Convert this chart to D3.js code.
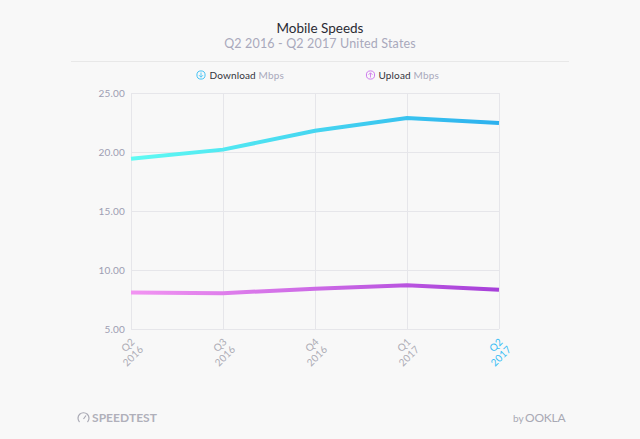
<!DOCTYPE html>
<html><head><meta charset="utf-8">
<script src="https://cdn.jsdelivr.net/npm/d3@7/dist/d3.min.js"></script>
<style>
html,body{margin:0;padding:0;background:#f8f8f8;overflow:hidden}
svg{display:block}
text{font-family:"Lato","Open Sans",sans-serif}
</style></head><body>
<script>
const quarters=["Q2|2016","Q3|2016","Q4|2016","Q1|2017","Q2|2017"];
const download=[19.43,20.2,21.8,22.88,22.46];
const upload=[8.1,8.03,8.42,8.7,8.33];
const yTicks=[5,10,15,20,25];
const title="Mobile Speeds";
const subtitle="Q2 2016 - Q2 2017 United States";

const svg=d3.select("body").append("svg").attr("width",640).attr("height",439);
const defs=svg.append("defs");
const x=d3.scalePoint().domain(quarters).range([131,499]);
const y=d3.scaleLinear().domain([5,25]).range([329,93]);

function grad(id,a,b){
  const g=defs.append("linearGradient").attr("id",id).attr("gradientUnits","userSpaceOnUse")
    .attr("x1",131).attr("x2",499).attr("y1",0).attr("y2",0);
  g.append("stop").attr("offset",0).attr("stop-color",a);
  g.append("stop").attr("offset",1).attr("stop-color",b);
}
grad("gd","#5ffbf3","#2cb0ee");
grad("gu","#f294f2","#a63fd9");

svg.append("text").attr("x",320).attr("y",33).attr("text-anchor","middle")
  .attr("font-size",13.5).attr("fill","#2a2a33").text(title);
svg.append("text").attr("x",320).attr("y",48).attr("text-anchor","middle")
  .attr("font-size",12.5).attr("letter-spacing",0.15).attr("fill","#a9a9bc").text(subtitle);
svg.append("line").attr("x1",71).attr("x2",569).attr("y1",61.5).attr("y2",61.5).attr("stroke","#e8e8e8");

function legend(cx,color,arrowUp,name,tx){
  const g=svg.append("g");
  g.append("circle").attr("cx",cx).attr("cy",75).attr("r",4.1).attr("fill","none").attr("stroke",color).attr("stroke-width",1);
  const d=arrowUp?`M${cx} 77.5V72.8M${cx-2} 74.8L${cx} 72.8L${cx+2} 74.8`:`M${cx} 72.5V77.2M${cx-2} 75.2L${cx} 77.2L${cx+2} 75.2`;
  g.append("path").attr("d",d).attr("fill","none").attr("stroke",color).attr("stroke-width",0.9);
  const t=g.append("text").attr("x",tx).attr("y",78.5).attr("font-size",10).attr("letter-spacing",0.15);
  t.append("tspan").attr("fill","#33333b").text(name);
  t.append("tspan").attr("fill","#a9a9bc").text(" Mbps");
}
legend(201,"#45c3f5",false,"Download",209.5);
legend(370.5,"#cf7bee",true,"Upload",378.5);

const gridG=svg.append("g");
gridG.call(d3.axisLeft(y).tickValues(yTicks).tickSize(-368).tickPadding(6).tickFormat(d3.format(".2f")))
  .attr("transform","translate(131,0)");
gridG.select(".domain").remove();
gridG.selectAll("line").attr("stroke","#e6e6ea");
gridG.selectAll("text").attr("font-size",10).attr("letter-spacing",0.2).attr("fill","#9d9db2").attr("x",-6)
  .attr("font-family","Lato");

const xG=svg.append("g").attr("transform","translate(0,93)");
xG.call(d3.axisBottom(x).tickSize(236).tickFormat(""));
xG.select(".domain").remove();
xG.selectAll("line").attr("stroke","#e6e6ea");

quarters.forEach((q,i)=>{
  const [a,b]=q.split("|");
  const last=i===quarters.length-1;
  const col=last?"#35bdf5":"#ababb4";
  const px=x(q);
  svg.append("text").attr("transform",`translate(${px-3},345) rotate(-45)`).attr("dy","0.35em")
    .attr("text-anchor","middle").attr("font-size",10).attr("letter-spacing",0.2).attr("fill",col).text(a);
  svg.append("text").attr("transform",`translate(${px+2},356) rotate(-45)`).attr("dy","0.35em")
    .attr("text-anchor","middle").attr("font-size",10).attr("letter-spacing",0.2).attr("fill",col).text(b);
});

const line=d3.line().x((d,i)=>x(quarters[i])).y(d=>y(d));
svg.append("path").datum(download).attr("d",line).attr("fill","none").attr("stroke","url(#gd)").attr("stroke-width",4);
svg.append("path").datum(upload).attr("d",line).attr("fill","none").attr("stroke","url(#gu)").attr("stroke-width",4);

// footer marks
svg.append("path").attr("d","M79.5 422A5.5 5.5 0 1 1 87.5 422M83.5 419L86 415.5").attr("fill","none").attr("stroke","#a9a9b4").attr("stroke-width",1.2);
svg.append("text").attr("x",92).attr("y",422).attr("font-size",12).attr("font-weight",700).attr("letter-spacing",0.05).attr("fill","#b0b0ba").text("SPEEDTEST");
svg.append("text").attr("x",513).attr("y",422).attr("font-size",10).attr("fill","#a9a9b4").text("by");
svg.append("text").attr("x",525).attr("y",422).attr("font-size",12).attr("letter-spacing",-0.2).attr("fill","#a9a9b4").text("OOKLA");
</script>
</body></html>
